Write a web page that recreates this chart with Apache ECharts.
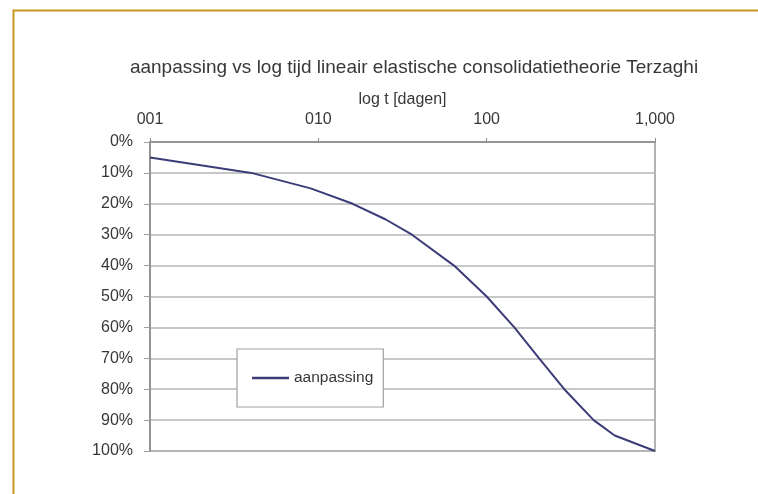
<!DOCTYPE html>
<html>
<head>
<meta charset="utf-8">
<script src="https://cdn.jsdelivr.net/npm/echarts@6/dist/echarts.min.js"></script>
<style>
html,body{margin:0;padding:0;background:#fff;}
#c{width:758px;height:494px;}
</style>
</head>
<body>
<div id="c"></div>
<script>
// Data
const tDays = [1, 4, 9, 16, 25, 36, 64, 100, 146, 205, 289, 432, 576, 1000];
const aanpassing = [5, 10, 15, 20, 25, 30, 40, 50, 60, 70, 80, 90, 95, 100];
const xTickValues = [1, 10, 100, 1000];
const xTickLabels = ['001', '010', '100', '1,000'];
const seriesName = 'aanpassing';
const titleText = 'aanpassing vs log tijd lineair elastische consolidatietheorie Terzaghi';
const xAxisName = 'log t [dagen]';

const chart = echarts.init(document.getElementById('c'), null, {renderer: 'canvas'});
const font = 'Liberation Sans, Arial, sans-serif';
const txt = '#383838';

chart.setOption({
  animation: false,
  backgroundColor: '#fff',
  title: {
    text: titleText,
    left: 409,
    textAlign: 'center',
    top: 53,
    textStyle: {fontFamily: font, fontSize: 19, fontWeight: 'normal', color: txt}
  },
  grid: {
    left: 150, top: 142, width: 505, height: 309,
    show: true, borderColor: '#9a9a9a', borderWidth: 1.5, backgroundColor: 'transparent'
  },
  legend: {
    data: [seriesName],
    left: 237, top: 349,
    orient: 'vertical',
    backgroundColor: '#fff',
    borderColor: '#a0a0a0', borderWidth: 1.2, borderRadius: 0,
    padding: [21, 10, 21, 15],
    itemWidth: 37, itemHeight: 2.5, itemGap: 0,
    icon: 'rect',
    textStyle: {fontFamily: font, fontSize: 15.5, color: txt}
  },
  xAxis: {
    type: 'log', logBase: 10, min: 1, max: 1000,
    position: 'top',
    name: xAxisName,
    nameLocation: 'middle',
    nameGap: 34,
    nameTextStyle: {fontFamily: font, fontSize: 16, color: txt},
    axisLine: {show: true, lineStyle: {color: '#8a8a8a', width: 1.5}},
    axisTick: {show: true, length: 4, lineStyle: {color: '#8a8a8a'}},
    splitLine: {show: false},
    minorTick: {show: false},
    axisLabel: {
      fontFamily: font, fontSize: 16, color: txt, margin: 14,
      formatter: function (v) {
        const i = xTickValues.findIndex(x => Math.abs(x - v) < 1e-6 * x);
        return i >= 0 ? xTickLabels[i] : '';
      }
    }
  },
  yAxis: {
    type: 'value', inverse: true, min: 0, max: 100, interval: 10,
    axisLine: {show: true, lineStyle: {color: '#8a8a8a', width: 1.5}},
    axisTick: {show: true, length: 6, lineStyle: {color: '#a0a0a0'}},
    splitLine: {show: true, lineStyle: {color: '#b4b4b4', width: 1.5}},
    axisLabel: {fontFamily: font, fontSize: 16, color: txt, margin: 17, formatter: '{value}%'}
  },
  series: [{
    name: seriesName,
    type: 'line',
    data: tDays.map((t, i) => [t, aanpassing[i]]),
    showSymbol: false,
    symbol: 'none',
    lineStyle: {color: '#3c3c78', width: 2},
    itemStyle: {color: '#3c3c78'}
  }],
  graphic: [{
    type: 'polyline',
    shape: {points: [[13.5, 494], [13.5, 10.5], [758, 10.5]]},
    style: {stroke: '#c8961e', lineWidth: 2, fill: null},
    silent: true
  }]
});
</script>
</body>
</html>
